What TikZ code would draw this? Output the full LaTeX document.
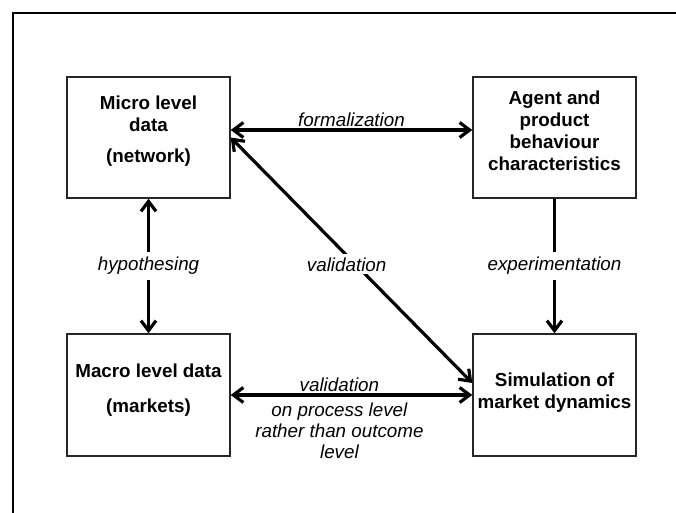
\documentclass[tikz,border=0pt]{standalone}
\usepackage{fontspec}
\setmainfont{Liberation Sans}
\usetikzlibrary{arrows.meta}

\tikzset{
  box/.style={draw=black!85, line width=1.4pt, rectangle, minimum width=163pt, minimum height=121pt, inner sep=0pt},
  boxtext/.style={font=\fontsize{18.8}{22}\selectfont\bfseries, align=center, inner sep=0pt},
  lbl/.style={font=\fontsize{18.8}{21}\selectfont\itshape, align=center, inner sep=0pt},
  cover/.style={lbl, fill=white, inner sep=5pt},
  link/.style={line width=3.2pt, black},
  tipend/.style={link, -{Straight Barb[length=10pt, width=15pt]}},
  tipboth/.style={link, {Straight Barb[length=10pt, width=15pt]}-{Straight Barb[length=10pt, width=15pt]}},
}

\begin{document}
\begin{tikzpicture}[x=1pt, y=-1pt]
  \useasboundingbox (0,0) rectangle (676,513);

  % partial outer frame
  \draw[line width=2pt] (13,513) -- (13,13.5) -- (676,13.5);

  % the four boxes
  \node[box] (micro) at (148.5,137.5) {};
  \node[box] (agent) at (554.5,137.5) {};
  \node[box, minimum height=122pt] (macro) at (148.5,395) {};
  \node[box, minimum height=122pt] (sim)   at (554.5,395) {};

  % box captions
  \node[boxtext] (microtxt) at (148.5,131) {Micro level\\data\\[9pt](network)};
  \node[boxtext] (agenttxt) at (554.5,130.5) {Agent and\\product\\behaviour\\characteristics};
  \node[boxtext] (macrotxt) at (148.5,390.5) {Macro level data\\[13pt](markets)};
  \node[boxtext] (simtxt)   at (554.5,392.5) {Simulation of\\market dynamics};

  % connectors
  \draw[tipboth] ([yshift=7.5pt]micro.east) -- node[lbl, yshift=10pt] {formalization} ([yshift=7.5pt]agent.west);
  \draw[tipboth] (micro.south) -- node[cover] {hypothesing} (macro.north);
  \draw[tipend] (agent.south) -- node[cover] {experimentation} (sim.north);
  \draw[tipboth] (micro.east) -- node[cover, pos=0.48, yshift=-9pt, inner sep=3pt] {validation} ([yshift=12pt]sim.west);
  \draw[tipboth] (macro.east) -- node[lbl, pos=0.45, yshift=10pt] {validation}
      node[lbl, pos=0.45, yshift=-36pt] {on process level\\rather than outcome\\level} (sim.west);
\end{tikzpicture}
\end{document}
